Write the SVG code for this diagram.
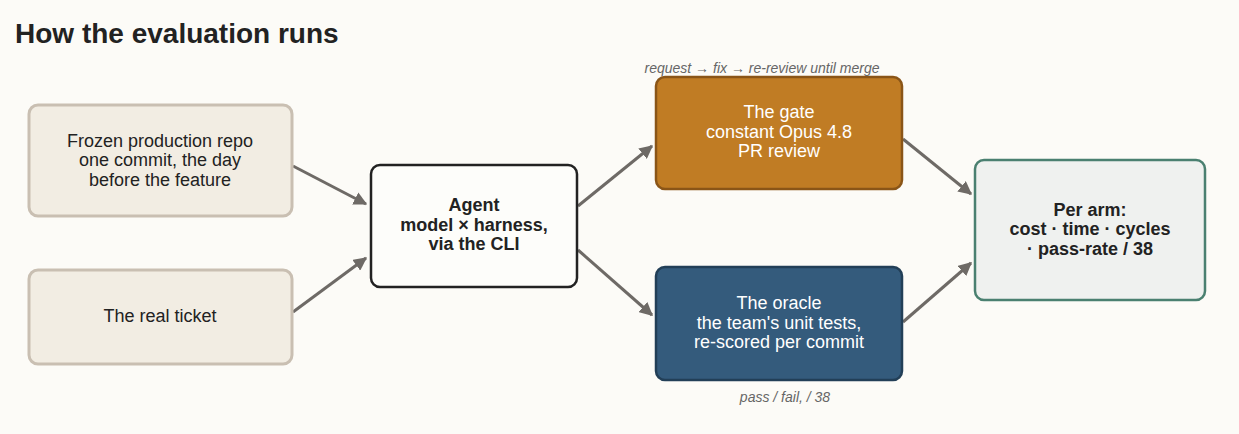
<svg xmlns="http://www.w3.org/2000/svg" width="1239" height="434" viewBox="0 0 1239 434">
<style>
text{font-family:"Liberation Sans",Arial,sans-serif;text-anchor:middle}
.t{font-size:18px;fill:#222}
.b{font-weight:bold}
.w{fill:#fff}
.cap{font-size:14px;font-style:italic;fill:#666}
.src rect{fill:#f2ede3;stroke:#c9bfb2;stroke-width:3}
#connectors line{stroke:#6e6a66;stroke-width:3;marker-end:url(#ah)}
</style>
<defs>
<marker id="ah" viewBox="0 0 10 10" refX="9" refY="5" markerWidth="4.5" markerHeight="4.5" orient="auto"><path d="M0,0L10,5L0,10z" fill="#6e6a66"/></marker>
</defs>
<rect width="1239" height="434" fill="#fcfbf7"/>
<text x="15" y="43" style="text-anchor:start;font-size:28px;font-weight:bold;fill:#222">How the evaluation runs</text>
<g id="connectors">
<line x1="293" y1="166" x2="366" y2="204"/>
<line x1="293" y1="312" x2="366" y2="258"/>
<line x1="578" y1="206" x2="652" y2="146"/>
<line x1="578" y1="250" x2="652" y2="315"/>
<line x1="903" y1="139" x2="971" y2="194"/>
<line x1="903" y1="322" x2="971" y2="263"/>
</g>
<g id="repo" class="src"><rect x="29" y="105" width="263" height="111" rx="9"/>
<text class="t" x="160" y="147">Frozen production repo</text><text class="t" x="160" y="166">one commit, the day</text><text class="t" x="160" y="186">before the feature</text></g>
<g id="ticket" class="src"><rect x="29" y="270" width="263" height="94" rx="9"/>
<text class="t" x="160" y="322">The real ticket</text></g>
<g id="agent"><rect x="371" y="165" width="206" height="122" rx="9" fill="#fdfdfa" stroke="#222" stroke-width="2.5"/>
<text class="t b" x="474" y="211">Agent</text><text class="t b" x="474" y="231">model × harness,</text><text class="t b" x="474" y="250">via the CLI</text></g>
<g id="gate"><rect x="656" y="77" width="246" height="112" rx="9" fill="#c07c24" stroke="#8a5517" stroke-width="2.5"/>
<text class="t w" x="779" y="118">The gate</text><text class="t w" x="779" y="138">constant Opus 4.8</text><text class="t w" x="779" y="157">PR review</text></g>
<text class="cap" x="762" y="73">request → fix → re-review until merge</text>
<g id="oracle"><rect x="656" y="267" width="246" height="113" rx="9" fill="#345b7c" stroke="#223f57" stroke-width="2.5"/>
<text class="t w" x="779" y="309">The oracle</text><text class="t w" x="779" y="329">the team's unit tests,</text><text class="t w" x="779" y="348">re-scored per commit</text></g>
<text class="cap" x="785" y="402">pass / fail, / 38</text>
<g id="perarm"><rect x="975" y="160" width="230" height="140" rx="9" fill="#eff1ef" stroke="#4a8070" stroke-width="2.5"/>
<text class="t b" x="1090" y="216">Per arm:</text><text class="t b" x="1090" y="235">cost · time · cycles</text><text class="t b" x="1090" y="255">· pass-rate / 38</text></g>
</svg>
